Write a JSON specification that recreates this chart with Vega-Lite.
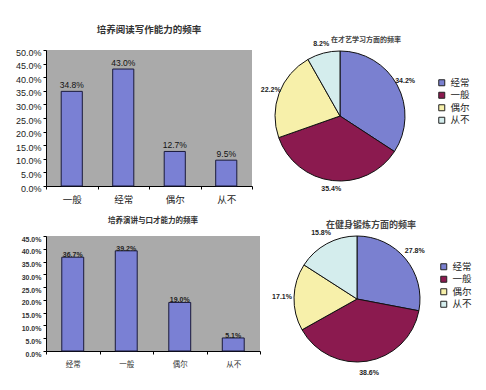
{
  "$schema": "https://vega.github.io/schema/vega-lite/v6.json",
  "background": "white",
  "padding": {"left": 15, "top": 24, "right": 5, "bottom": 5},
  "config": {"view": {"stroke": null}, "font": "Noto Sans CJK SC"},
  "spacing": 12,
  "resolve": {"scale": {"color": "independent"}, "legend": {"color": "independent"}},
  "vconcat": [
    {
      "spacing": 22,
      "bounds": "flush",
      "resolve": {"scale": {"color": "independent"}, "legend": {"color": "independent"}},
      "hconcat": [
        {
          "width": 206, "height": 136,
          "view": {"fill": "#aaaaaa", "stroke": null},
          "title": {"text": "培养阅读写作能力的频率", "fontSize": 9.5, "fontWeight": "bold", "color": "#333", "offset": 14, "font": "Noto Sans CJK SC"},
          "data": {"values": [
            {"cat": "一般", "v": 0.348},
            {"cat": "经常", "v": 0.430},
            {"cat": "偶尔", "v": 0.127},
            {"cat": "从不", "v": 0.095}
          ]},
          "encoding": {
            "x": {"field": "cat", "type": "nominal", "sort": null, "scale": {"paddingInner": 0, "paddingOuter": 0},
              "axis": {"title": null, "labelAngle": 0, "tickBand": "extent", "domainColor": "#000", "tickColor": "#000", "tickSize": 3, "labelFontSize": 9.5, "labelColor": "#222", "labelPadding": 5, "labelFont": "Noto Sans CJK SC"}},
            "y": {"field": "v", "type": "quantitative", "scale": {"domain": [0, 0.5]},
              "axis": {"title": null, "values": [0, 0.05, 0.1, 0.15, 0.2, 0.25, 0.3, 0.35, 0.4, 0.45, 0.5], "format": ".1%", "grid": false, "domainColor": "#000", "tickColor": "#000", "tickSize": 3, "labelFontSize": 9, "labelColor": "#222", "labelFont": "Liberation Sans", "labelOffset": 2}}
          },
          "layer": [
            {"mark": {"type": "bar", "width": {"band": 0.41}, "fill": "#7a80d4", "stroke": "#1a1a3a", "strokeWidth": 1}},
            {"mark": {"type": "text", "baseline": "bottom", "dy": -1, "fontSize": 8.5, "font": "Liberation Sans", "color": "#111"},
             "encoding": {"text": {"field": "v", "type": "quantitative", "format": ".1%"}}}
          ]
        },
        {
          "width": 132, "height": 132,
          "view": {"stroke": null},
          "title": {"text": "在才艺学习方面的频率", "fontSize": 7, "fontWeight": "bold", "color": "#444", "offset": -3, "dx": 26, "font": "Noto Sans CJK SC"},
          "data": {"values": [
            {"cat": "经常", "v": 0.342, "i": 1},
            {"cat": "一般", "v": 0.354, "i": 2},
            {"cat": "偶尔", "v": 0.222, "i": 3},
            {"cat": "从不", "v": 0.082, "i": 4}
          ]},
          "encoding": {
            "theta": {"field": "v", "type": "quantitative", "stack": true},
            "order": {"field": "i", "type": "quantitative"}
          },
          "layer": [
            {"mark": {"type": "arc", "outerRadius": 65, "stroke": "#111", "strokeWidth": 1},
             "encoding": {"color": {"field": "cat", "type": "nominal", "sort": null,
               "scale": {"domain": ["经常", "一般", "偶尔", "从不"], "range": ["#7a80d0", "#8b1a4f", "#f7f0aa", "#d4eded"]},
               "legend": {"orient": "none", "legendX": 163, "legendY": 28, "title": null, "symbolType": "square", "symbolSize": 36, "symbolStrokeColor": "#222", "symbolStrokeWidth": 1, "labelFontSize": 9.5, "labelColor": "#222", "labelFont": "Noto Sans CJK SC", "rowPadding": 1.5, "labelOffset": 4}}}},
            {"mark": {"type": "text", "radius": 74, "fontSize": 7, "fontWeight": "bold", "font": "Liberation Sans", "color": "#222"},
             "encoding": {"text": {"field": "v", "type": "quantitative", "format": ".1%"}, "detail": {"field": "cat"}}}
          ]
        }
      ]
    },
    {
      "spacing": 34,
      "bounds": "flush",
      "resolve": {"scale": {"color": "independent"}, "legend": {"color": "independent"}},
      "hconcat": [
        {
          "width": 214, "height": 115,
          "view": {"fill": "#aaaaaa", "stroke": null},
          "title": {"text": "培养演讲与口才能力的频率", "fontSize": 7.5, "fontWeight": "bold", "color": "#333", "offset": 11, "font": "Noto Sans CJK SC"},
          "data": {"values": [
            {"cat": "经常", "v": 0.367},
            {"cat": "一般", "v": 0.392},
            {"cat": "偶尔", "v": 0.190},
            {"cat": "从不", "v": 0.051}
          ]},
          "encoding": {
            "x": {"field": "cat", "type": "nominal", "sort": null, "scale": {"paddingInner": 0, "paddingOuter": 0},
              "axis": {"title": null, "labelAngle": 0, "tickBand": "extent", "domainColor": "#000", "tickColor": "#000", "tickSize": 3, "labelFontSize": 7.5, "labelColor": "#333", "labelPadding": 6, "labelFont": "Noto Sans CJK SC"}},
            "y": {"field": "v", "type": "quantitative", "scale": {"domain": [0, 0.45]},
              "axis": {"title": null, "values": [0, 0.05, 0.1, 0.15, 0.2, 0.25, 0.3, 0.35, 0.4, 0.45], "format": ".1%", "grid": false, "domainColor": "#000", "tickColor": "#000", "tickSize": 3, "labelFontSize": 7, "labelFontWeight": "bold", "labelColor": "#333", "labelFont": "Liberation Sans", "labelOffset": 3}}
          },
          "layer": [
            {"mark": {"type": "bar", "width": {"band": 0.41}, "fill": "#7a80d4", "stroke": "#1a1a3a", "strokeWidth": 1}},
            {"mark": {"type": "text", "baseline": "bottom", "dy": 1, "fontSize": 7, "fontWeight": "bold", "font": "Liberation Sans", "color": "#222"},
             "encoding": {"text": {"field": "v", "type": "quantitative", "format": ".1%"}}}
          ]
        },
        {
          "width": 126, "height": 126,
          "view": {"stroke": null},
          "title": {"text": "在健身锻炼方面的频率", "fontSize": 9, "fontWeight": "bold", "color": "#444", "offset": -1, "dx": 14, "font": "Noto Sans CJK SC"},
          "data": {"values": [
            {"cat": "经常", "v": 0.278, "i": 1},
            {"cat": "一般", "v": 0.386, "i": 2},
            {"cat": "偶尔", "v": 0.171, "i": 3},
            {"cat": "从不", "v": 0.158, "i": 4}
          ]},
          "encoding": {
            "theta": {"field": "v", "type": "quantitative", "stack": true},
            "order": {"field": "i", "type": "quantitative"}
          },
          "layer": [
            {"mark": {"type": "arc", "outerRadius": 63, "stroke": "#111", "strokeWidth": 1},
             "encoding": {"color": {"field": "cat", "type": "nominal", "sort": null,
               "scale": {"domain": ["经常", "一般", "偶尔", "从不"], "range": ["#7a80d0", "#8b1a4f", "#f7f0aa", "#d4eded"]},
               "legend": {"orient": "none", "legendX": 145, "legendY": 26, "title": null, "symbolType": "square", "symbolSize": 36, "symbolStrokeColor": "#222", "symbolStrokeWidth": 1, "labelFontSize": 9.5, "labelColor": "#222", "labelFont": "Noto Sans CJK SC", "rowPadding": 1.5, "labelOffset": 4}}}},
            {"mark": {"type": "text", "radius": 75, "fontSize": 7, "fontWeight": "bold", "font": "Liberation Sans", "color": "#222"},
             "encoding": {"text": {"field": "v", "type": "quantitative", "format": ".1%"}, "detail": {"field": "cat"}}}
          ]
        }
      ]
    }
  ]
}
